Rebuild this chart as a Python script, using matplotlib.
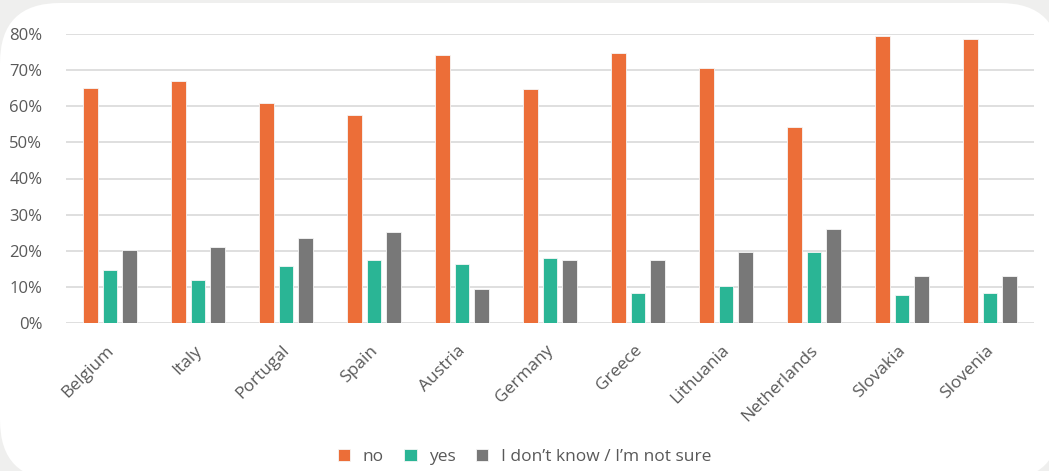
import numpy as np
import matplotlib.pyplot as plt
from matplotlib.patches import FancyBboxPatch
from matplotlib.ticker import PercentFormatter

plt.rcParams['font.family'] = ['Open Sans', 'DejaVu Sans']

countries = ['Belgium', 'Italy', 'Portugal', 'Spain', 'Austria', 'Germany',
             'Greece', 'Lithuania', 'Netherlands', 'Slovakia', 'Slovenia']
no_vals = [65.1, 67.0, 60.9, 57.6, 74.2, 64.8, 74.8, 70.6, 54.3, 79.5, 78.7]
yes_vals = [14.7, 11.9, 15.8, 17.5, 16.3, 18.0, 8.3, 10.2, 19.7, 7.8, 8.3]
unsure_vals = [20.2, 21.0, 23.5, 25.2, 9.4, 17.5, 17.5, 19.7, 26.0, 13.0, 13.0]
series_labels = ['no', 'yes', 'I don\u2019t know / I\u2019m not sure']

colors = ['#EC6E38', '#2AB595', '#787878']
text_color = '#595959'

W, H = 1049, 471
fig = plt.figure(figsize=(W / 100, H / 100), dpi=100)
fig.patch.set_facecolor('#EFEFEE')

# rounded white card behind the chart
bg = fig.add_axes([0, 0, 1, 1], zorder=-1)
bg.set_xlim(0, W)
bg.set_ylim(H, 0)
bg.axis('off')
bg.add_patch(FancyBboxPatch((60, 63), 940, 357, boxstyle='round,pad=60',
                            fc='white', ec='none'))

ax = fig.add_axes([66 / W, 1 - 323 / H, (1034 - 66) / W, (323 - 34) / H])
ax.set_facecolor('none')

x = np.arange(len(countries))
w = 0.17
step = 0.225
for i, (vals, c, lab) in enumerate(zip([no_vals, yes_vals, unsure_vals], colors, series_labels)):
    ax.bar(x + (i - 1) * step, np.array(vals) / 100, width=w, color=c,
           edgecolor='#f6f6f6', linewidth=0.6, label=lab, zorder=3)

ax.set_xlim(-0.5, len(countries) - 0.5)
ax.set_ylim(0, 0.8)
ax.set_yticks(np.arange(0, 0.81, 0.1))
ax.yaxis.set_major_formatter(PercentFormatter(1.0, decimals=0))
ax.grid(axis='y', color='#D9D9D9', linewidth=1.2, zorder=0)
ax.set_axisbelow(True)
for s in ax.spines.values():
    s.set_visible(False)
ax.tick_params(axis='both', length=0, colors=text_color, labelsize=12)
ax.tick_params(axis='y', pad=17)

ax.set_xticks(x - 0.05)
ax.set_xticklabels(countries, rotation=45, ha='right', rotation_mode='anchor')
ax.tick_params(axis='x', pad=14, labelsize=12.5)

leg = fig.legend(loc='center', bbox_to_anchor=(0.5, 1 - 457 / H), ncol=3,
                 frameon=False, fontsize=12.5, handlelength=0.7, handleheight=0.7,
                 handletextpad=0.7, columnspacing=1.2)
for t in leg.get_texts():
    t.set_color(text_color)

fig.savefig('out.png', dpi=100, facecolor=fig.get_facecolor())
